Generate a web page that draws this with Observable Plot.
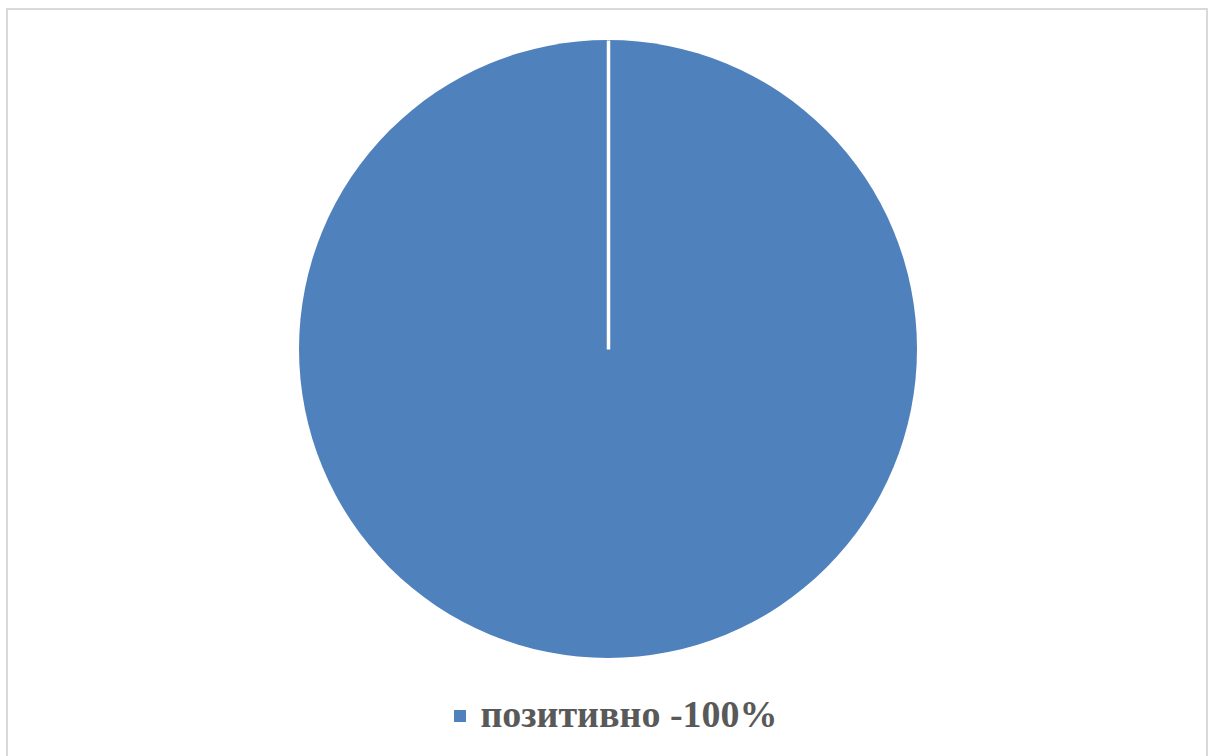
<!DOCTYPE html>
<html>
<head>
<meta charset="utf-8">
<script src="https://cdn.jsdelivr.net/npm/d3@7"></script>
<script src="https://cdn.jsdelivr.net/npm/@observablehq/plot@0.6"></script>
<style>
  html, body { margin: 0; padding: 0; background: #fff; width: 1216px; height: 756px; overflow: hidden; }
  #frame { position: absolute; left: 6px; top: 8px; width: 1202px; height: 780px; border: 2px solid #d9d9d9; box-sizing: border-box; }
  #chart { position: absolute; left: 0; top: 0; }
  #legend { position: absolute; left: 8px; width: 1216px; top: 692px; text-align: center; font-family: "Times New Roman", "Liberation Serif", Tinos, serif; font-weight: 700; font-size: 38px; color: #595959; white-space: nowrap; }
  #legend .sw { display: inline-block; width: 12px; height: 12px; background: #4F81BD; margin-right: 14px; vertical-align: 5px; }
</style>
</head>
<body>
<div id="frame"></div>
<div id="chart"></div>
<div id="legend"></div>
<script>
const categories = ["позитивно"];
const values = [100];
const legendLabels = ["позитивно -100%"];
const colors = ["#4F81BD"];

const data = categories.map((c, i) => ({category: c, value: values[i], label: legendLabels[i]}));
const arcs = d3.pie().sort(null).value(d => d.value)(data);
// slice start edges (radial separators)
const edges = arcs.map(a => ({
  x1: 0, y1: 0,
  x2: Math.sin(a.startAngle), y2: Math.cos(a.startAngle)
}));

function pieMark(index, scales, values, dimensions) {
  const cx = scales.x(0), cy = scales.y(0);
  const r = Math.abs(scales.x(1) - scales.x(0));
  const g = d3.create("svg:g").attr("transform", `translate(${cx},${cy})`);
  const arc = d3.arc().innerRadius(0).outerRadius(r);
  g.selectAll("path").data(arcs).join("path")
    .attr("d", arc)
    .attr("fill", (d, i) => colors[i % colors.length]);
  return g.node();
}

const plot = Plot.plot({
  width: 1216,
  height: 690,
  marginLeft: 299,
  marginRight: 299,
  marginTop: 40,
  marginBottom: 32,
  x: {domain: [-1, 1], axis: null},
  y: {domain: [-1, 1], axis: null},
  style: {background: "transparent"},
  marks: [
    pieMark,
    Plot.link(edges, {x1: "x1", y1: "y1", x2: "x2", y2: "y2", stroke: "white", strokeWidth: 3.5})
  ]
});
document.getElementById("chart").appendChild(plot);

const legend = document.getElementById("legend");
data.forEach((d, i) => {
  const sw = document.createElement("span");
  sw.className = "sw";
  sw.style.background = colors[i % colors.length];
  legend.appendChild(sw);
  legend.appendChild(document.createTextNode(d.label));
});
</script>
</body>
</html>
